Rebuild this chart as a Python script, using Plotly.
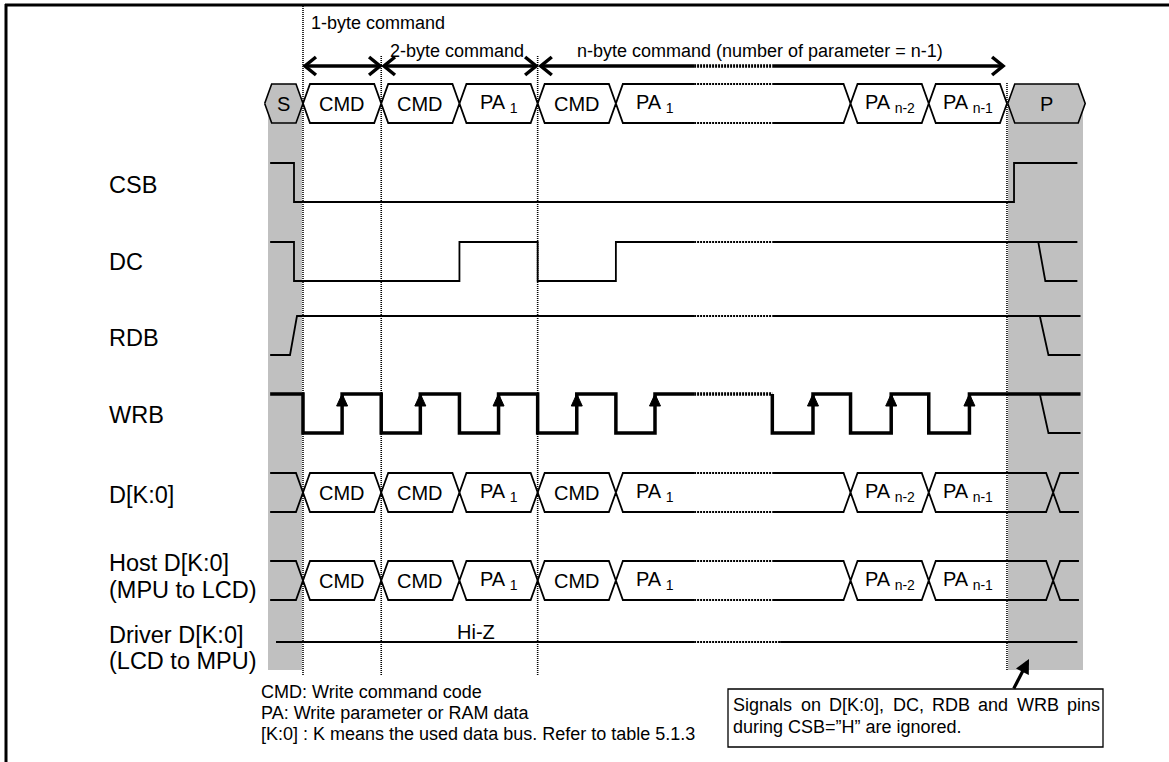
import plotly.graph_objects as go

W, H = 1169, 762
# ---------------------------------------------------------------------------
# DATA  (time in byte-slot units, logic levels 0/1)
# ---------------------------------------------------------------------------
row_labels = ["CSB", "DC", "RDB", "WRB", "D[K:0]"]
host_label = ["Host D[K:0]", "(MPU to LCD)"]
driver_label = ["Driver D[K:0]", "(LCD to MPU)"]

csb_t = [-0.42, -0.115, -0.115, 9.09, 9.09, 9.90]
csb_v = [1, 1, 0, 0, 1, 1]

dc_t = [-0.42, -0.115, -0.115, 2, 2, 3, 3, 4, 4, 9.90]
dc_v = [1, 1, 0, 0, 1, 1, 0, 0, 1, 1]
dc_tail_t = [9.40, 9.49, 9.90]
dc_tail_v = [1, 0, 0]

rdb_t = [-0.42, -0.166, -0.077, 9.94]
rdb_v = [0, 0, 1, 1]
rdb_tail_t = [9.42, 9.53, 9.94]
rdb_tail_v = [1, 0, 0]

wrb_fall = [0, 1, 2, 3, 4, 6, 7, 8]
wrb_rise = [0.5, 1.5, 2.5, 3.5, 4.5, 6.52, 7.52, 8.52]
wrb_span = [-0.42, 9.94]
wrb_tail_t = [9.42, 9.53, 9.94]
wrb_tail_v = [1, 0, 0]

bus_bounds = [-0.42, 0, 1, 2, 3, 4, 7, 8, 9.59, 9.92]
cmd_bounds = [0, 1, 2, 3, 4, 7, 8, 9]
s_bounds = [-0.49, 0]
p_bounds = [9.01, 10.0]
cell_labels = ["CMD", "CMD", "PA <sub>1</sub>", "CMD", "PA <sub>1</sub>",
               "PA <sub>n-2</sub>", "PA <sub>n-1</sub>"]
cell_label_t = [0.5, 1.5, 2.5, 3.5, 4.5, 7.5, 8.5]

driver_t = [-0.345, 9.90]
hiz_t = 2.21

gap = (5.0, 6.0)
driver_gap = (5.0, 6.1)

cmd_spans = [(0.025, 0.985), (1.035, 2.98), (3.04, 8.95)]
cmd_span_text = ["1-byte command", "2-byte command",
                 "n-byte command (number of parameter = n-1)"]
cmd_text_t = [0.08, 1.09, 3.48]

separators_t = [0, 1, 3, 9]

notes = ["CMD: Write command code", "PA: Write parameter or RAM data",
         "[K:0] : K means the used data bus. Refer to table 5.1.3"]
box_line1 = ["Signals", "on", "D[K:0],", "DC,", "RDB", "and", "WRB", "pins"]
box_line2 = "during CSB=\u201dH\u201d are ignored."

# ---------------------------------------------------------------------------
# layout helpers (pixel positions -> axis units)
# ---------------------------------------------------------------------------
SLOT, X0, SW = 78.22, 303.0, 39.0


def xu(px):
    return (px - X0) / SLOT


def yu(px):
    return (H - px) / SW


FONT = "Arial, 'Liberation Sans', sans-serif"
H_X = 7 / SLOT  # crossing half-width
GRAY = "#c0c0c0"

row_low_px = {"CSB": 202, "DC": 281, "RDB": 355, "WRB": 433, "D": 512, "HOST": 600, "CMDROW": 123}
base = {k: yu(v) for k, v in row_low_px.items()}
driver_y = yu(642)

fig = go.Figure()


def split_runs(xs, ys, gaps):
    runs = []

    def in_gap(x):
        return any(g0 < x < g1 for g0, g1 in gaps)

    for i in range(len(xs) - 1):
        x1, y1, x2, y2 = xs[i], ys[i], xs[i + 1], ys[i + 1]
        cuts = [x1, x2]
        lo, hi = min(x1, x2), max(x1, x2)
        for g0, g1 in gaps:
            for g in (g0, g1):
                if lo < g < hi:
                    cuts.append(g)
        cuts = sorted(cuts, reverse=(x2 < x1))
        for a, b in zip(cuts[:-1], cuts[1:]):
            if x2 != x1:
                ya = y1 + (y2 - y1) * (a - x1) / (x2 - x1)
                yb = y1 + (y2 - y1) * (b - x1) / (x2 - x1)
            else:
                ya, yb = y1, y2
            k = in_gap((a + b) / 2)
            if runs and runs[-1][0] == k and abs(runs[-1][1][-1] - a) < 1e-9 and abs(runs[-1][2][-1] - ya) < 1e-9:
                runs[-1][1].append(b)
                runs[-1][2].append(yb)
            else:
                runs.append([k, [a, b], [ya, yb]])
    return runs


def add_path(t, y, gaps=(), width=2.0):
    runs = split_runs(t, y, gaps)
    for dotted in (False, True):
        xs, ys = [], []
        for k, rx, ry in runs:
            if k == dotted:
                xs += rx + [None]
                ys += ry + [None]
        if xs:
            fig.add_trace(go.Scatter(
                x=xs, y=ys, mode="lines", hoverinfo="skip",
                line=dict(color="black", width=width,
                          dash="2px,1px" if dotted else "solid")))


def bus_path(bounds, open_start, open_end, level):
    pts = []
    n = len(bounds)
    for i, c in enumerate(bounds):
        first, last = i == 0, i == n - 1
        if (first and open_start) or (last and open_end):
            pts.append((c, level))
            continue
        if not first:
            pts.append((c - H_X, level))
        pts.append((c, 0.5))
        if not last:
            pts.append((c + H_X, level))
    return pts


# gray "ignored" columns
for x0, x1 in ((xu(268), xu(302)), (xu(1008), xu(1083))):
    fig.add_shape(type="rect", xref="x", yref="y", x0=x0, x1=x1,
                  y0=yu(670), y1=base["CMDROW"] + 0.5, fillcolor=GRAY,
                  line=dict(width=0), layer="below")

# outer frame (left and top edges)
fig.add_shape(type="line", xref="x", yref="y", x0=xu(6), x1=xu(6), y0=yu(4), y1=yu(H + 5),
              line=dict(color="black", width=3))
fig.add_shape(type="line", xref="x", yref="y", x0=xu(5), x1=xu(W + 5), y0=yu(5), y1=yu(5),
              line=dict(color="black", width=3))

# dotted separators
sep_top = {0: yu(5), 1: yu(56), 3: yu(56), 9: yu(82)}
sep_bot = {0: yu(675), 1: yu(675), 3: yu(675), 9: yu(670)}
for t in separators_t:
    fig.add_trace(go.Scatter(x=[t, t], y=[sep_bot[t], sep_top[t]], mode="lines", hoverinfo="skip",
                             line=dict(color="black", width=1.6, dash="1px,1px")))

# S / P hexagons (filled gray)
for bnds, txt in ((s_bounds, "S"), (p_bounds, "P")):
    up = bus_path(bnds, False, False, 1)
    dn = bus_path(bnds, False, False, 0)
    poly = up + dn[::-1]
    fig.add_trace(go.Scatter(x=[p[0] for p in poly], y=[base["CMDROW"] + p[1] for p in poly],
                             mode="lines", fill="toself", fillcolor=GRAY, hoverinfo="skip",
                             line=dict(color="black", width=1.6)))
    fig.add_annotation(x=(bnds[0] + bnds[1]) / 2, y=base["CMDROW"] + 0.5, text=txt, showarrow=False,
                       font=dict(family=FONT, size=20, color="black"))

# command row + data rows
for rb, bounds, opn in ((base["CMDROW"], cmd_bounds, False), (base["D"], bus_bounds, True),
                        (base["HOST"], bus_bounds, True)):
    for lvl in (1, 0):
        pts = bus_path(bounds, opn, opn, lvl)
        add_path([p[0] for p in pts], [rb + p[1] for p in pts], gaps=[gap], width=1.8)
    for lab, t in zip(cell_labels, cell_label_t):
        fig.add_annotation(x=t, y=rb + 0.5, text=lab, showarrow=False,
                           font=dict(family=FONT, size=20, color="black"))

# control signals
add_path(csb_t, [base["CSB"] + v for v in csb_v], width=1.8)
add_path(dc_t, [base["DC"] + v for v in dc_v], gaps=[gap], width=1.8)
add_path(dc_tail_t, [base["DC"] + v for v in dc_tail_v], width=1.8)
add_path(rdb_t, [base["RDB"] + v for v in rdb_v], gaps=[gap], width=1.8)
add_path(rdb_tail_t, [base["RDB"] + v for v in rdb_tail_v], width=1.8)

wt, wv = [wrb_span[0]], [1]
for f, r in zip(wrb_fall, wrb_rise):
    wt += [f, f, r, r]
    wv += [1, 0, 0, 1]
wt.append(wrb_span[1])
wv.append(1)
add_path(wt, [base["WRB"] + v for v in wv], gaps=[gap], width=3.5)
add_path(wrb_tail_t, [base["WRB"] + v for v in wrb_tail_v], width=1.8)

# WRB rising-edge arrowheads
ax_, ay_ = [], []
dx, dy = 5.5 / SLOT, 12 / SW
for r in wrb_rise:
    ax_ += [r - dx, r, r + dx, r - dx, None]
    ay_ += [base["WRB"] + 1 - dy, base["WRB"] + 1, base["WRB"] + 1 - dy, base["WRB"] + 1 - dy, None]
fig.add_trace(go.Scatter(x=ax_, y=ay_, mode="lines", fill="toself", fillcolor="black",
                         hoverinfo="skip", line=dict(color="black", width=1)))

# driver line (Hi-Z)
add_path(driver_t, [driver_y, driver_y], gaps=[driver_gap], width=1.8)
fig.add_annotation(x=hiz_t, y=yu(632), text="Hi-Z", showarrow=False,
                   font=dict(family=FONT, size=20, color="black"))

# command span arrows
arrow_y = yu(66)
cdx, cdy = 11 / SLOT, 9 / SW
for (a, b), txt, tt, ty in zip(cmd_spans, cmd_span_text, cmd_text_t, (yu(23), yu(51), yu(51))):
    add_path([a, b], [arrow_y, arrow_y], gaps=[gap], width=3.5)
    add_path([a + cdx, a, a + cdx], [arrow_y + cdy, arrow_y, arrow_y - cdy], width=3.5)
    add_path([b - cdx, b, b - cdx], [arrow_y + cdy, arrow_y, arrow_y - cdy], width=3.5)
    fig.add_annotation(x=tt, y=ty, text=txt, showarrow=False, xanchor="left",
                       font=dict(family=FONT, size=18, color="black"))

# left labels
lab_y = [185, 262, 338, 415, 495]
for txt, py in zip(row_labels, lab_y):
    fig.add_annotation(x=xu(107), y=yu(py), text=txt, showarrow=False, xanchor="left",
                       font=dict(family=FONT, size=23.5, color="black"))
for lines, pys in ((host_label, (563, 590)), (driver_label, (635, 661))):
    for txt, py in zip(lines, pys):
        fig.add_annotation(x=xu(107), y=yu(py), text=txt, showarrow=False, xanchor="left",
                           font=dict(family=FONT, size=23.5, color="black"))

# footnotes
for txt, py in zip(notes, (692, 713, 734)):
    fig.add_annotation(x=xu(259), y=yu(py), text=txt, showarrow=False, xanchor="left",
                       font=dict(family=FONT, size=18, color="black"))

# callout box (first line justified word by word)
fig.add_shape(type="rect", xref="x", yref="y", x0=xu(728), x1=xu(1103), y0=yu(747), y1=yu(689),
              line=dict(color="black", width=1.3), fillcolor="rgba(0,0,0,0)")
word_left = [731, 798.5, 827, 890.5, 930, 976, 1014.5, 1065]
for w, lx in zip(box_line1, word_left):
    fig.add_annotation(x=xu(lx), y=yu(705), text=w, showarrow=False, xanchor="left",
                       font=dict(family=FONT, size=18, color="black"))
fig.add_annotation(x=xu(731), y=yu(727), text=box_line2, showarrow=False, xanchor="left",
                   font=dict(family=FONT, size=18, color="black"))
fig.add_annotation(x=xu(1029), y=yu(659), ax=xu(1013), ay=yu(690), axref="x", ayref="y",
                   xref="x", yref="y", text="", showarrow=True, arrowhead=2, arrowsize=0.9,
                   arrowwidth=3.2, arrowcolor="black", standoff=0, startstandoff=0)

fig.update_layout(
    width=W, height=H, margin=dict(l=0, r=0, t=0, b=0),
    paper_bgcolor="white", plot_bgcolor="white", showlegend=False,
    xaxis=dict(range=[xu(0), xu(W)], visible=False, fixedrange=True),
    yaxis=dict(range=[yu(H), yu(0)], visible=False, fixedrange=True),
)
fig.write_html("out.html", config={"displayModeBar": False},
               post_script="document.body.style.margin='0px';document.body.style.overflow='hidden';")
